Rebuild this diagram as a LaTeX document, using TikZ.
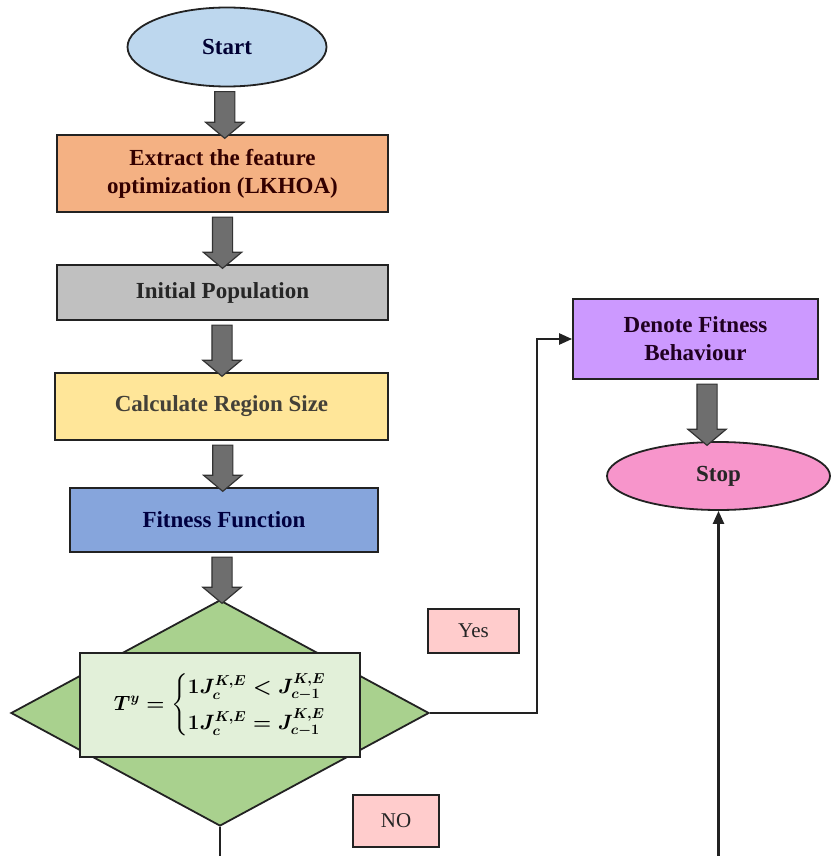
\documentclass[tikz,border=0pt]{standalone}
\usepackage{amsmath}
\usepackage{fontspec}
\setmainfont{Liberation Serif}
\usetikzlibrary{shapes.geometric,shapes.arrows,arrows.meta,calc}
\definecolor{cstart}{HTML}{BDD7EE}
\definecolor{cextract}{HTML}{F4B183}
\definecolor{cinit}{HTML}{C0C0C0}
\definecolor{ccalc}{HTML}{FFE699}
\definecolor{cfit}{HTML}{86A5DC}
\definecolor{cdia}{HTML}{A9D18E}
\definecolor{cinner}{HTML}{E2F0D9}
\definecolor{clabel}{HTML}{FFCCCC}
\definecolor{cden}{HTML}{CC99FF}
\definecolor{cstop}{HTML}{F795CB}
\definecolor{cbarrow}{HTML}{6E6E6E}
\definecolor{cline}{HTML}{222222}
\tikzset{
  base/.style={draw=cline, line width=1.8pt, inner sep=0pt, align=center,
    font=\fontsize{23}{28}\selectfont\bfseries, text=black!85},
  boxnode/.style={base, rectangle},
  ovalnode/.style={base, ellipse},
  lblnode/.style={base, rectangle, fill=clabel, font=\fontsize{21}{25}\selectfont},
  barrow/.style={single arrow, draw=black!80, fill=cbarrow, line width=1.2pt,
    inner sep=9.5pt, single arrow head extend=9pt, single arrow tip angle=100,
    rotate=-90, anchor=center},
  conn/.style={draw=cline, line width=2.4pt, -{Triangle[length=13pt,width=11pt]}},
}
\newcommand\blockarrow[2]{%
  \path let \p1=(#1.south), \p2=(#2.north) in
    node[barrow, minimum height={\y1-\y2}] at ({(\x1+\x2)/2},{(\y1+\y2)/2}) {};}
\begin{document}
\begin{tikzpicture}[x=1pt,y=-1pt]
\useasboundingbox[fill=white] (0,0) rectangle (831,856);
% left column
\node[ovalnode, fill=cstart, minimum width=199pt, minimum height=79pt, text=black!80!blue] (start) at (227,47) {Start};
\node[boxnode, fill=cextract, minimum width=331pt, minimum height=77pt, text=black!80!red] (extract) at (222.5,173.5) {Extract the feature\\optimization (LKHOA)};
\node[boxnode, fill=cinit, minimum width=331pt, minimum height=55pt] (init) at (222.5,292.5) {Initial Population};
\node[boxnode, fill=ccalc, minimum width=333pt, minimum height=67pt, text=black!85!yellow] (calc) at (221.5,406.5) {Calculate Region Size};
\node[boxnode, fill=cfit, minimum width=308pt, minimum height=64pt, text=black!75!blue] (fit) at (224,520) {Fitness Function};
\node[diamond, draw=cline, line width=1.8pt, fill=cdia, inner sep=0pt, minimum width=418pt, minimum height=226pt] (dia) at (220,713) {};
\node[boxnode, fill=cinner, minimum width=280pt, minimum height=104pt, font=\fontsize{21}{25}\selectfont\boldmath, text=black] (cond) at (220,705)
  {$T^{y}=\left\{\begin{array}{@{}l@{\;}l@{}}1J_{c}^{K,E} & <J_{c-1}^{K,E}\\[8pt] 1J_{c}^{K,E} & =J_{c-1}^{K,E}\end{array}\right.$};
\node[lblnode, minimum width=91pt, minimum height=44pt] (yes) at (473.5,631) {Yes};
\node[lblnode, minimum width=86pt, minimum height=52pt] (no) at (396,821) {NO};
% right column
\node[boxnode, fill=cden, minimum width=245pt, minimum height=80pt, text=black!75!violet] (den) at (695.5,339) {Denote Fitness\\Behaviour};
\node[ovalnode, fill=cstop, minimum width=223pt, minimum height=68pt] (stop) at (718.5,476) {Stop};
% block arrows
\blockarrow{start}{extract}
\blockarrow{extract}{init}
\blockarrow{init}{calc}
\blockarrow{calc}{fit}
\blockarrow{fit}{dia}
\blockarrow{den}{stop}
% connectors
\draw[conn] (dia.east) -- ++(107,0) |- (den.west);
\draw[conn] (dia.south) -- ++(0,34) -| (stop.south);
\end{tikzpicture}
\end{document}
